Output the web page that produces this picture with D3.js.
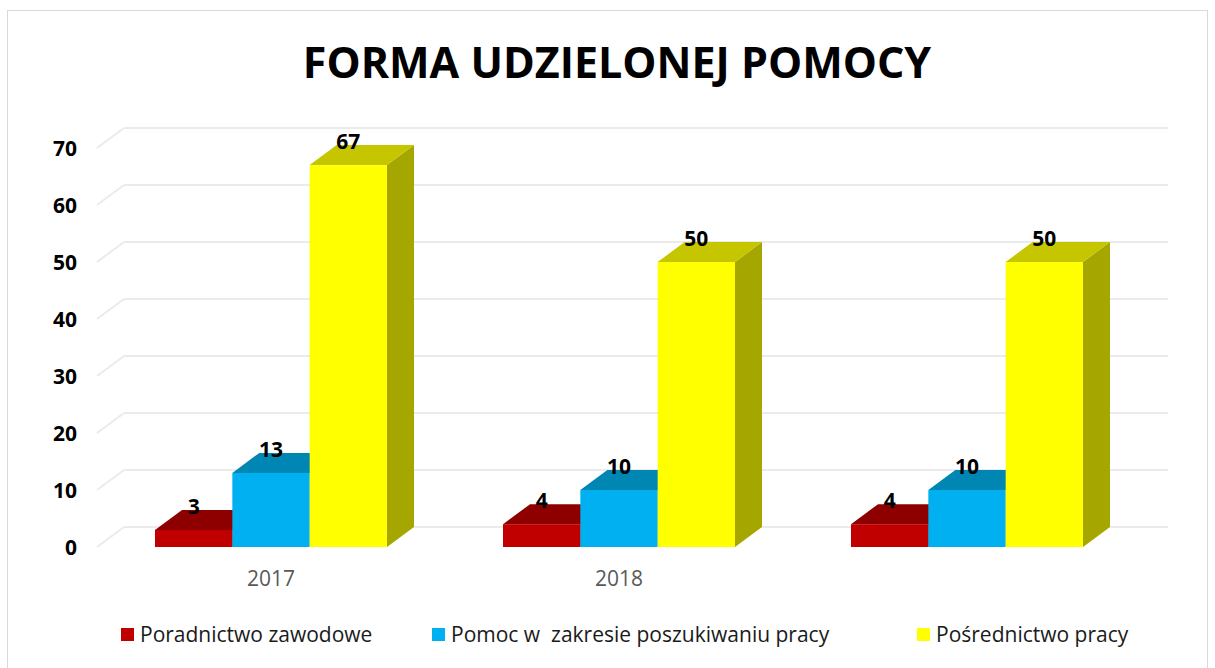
<!DOCTYPE html>
<html>
<head>
<meta charset="utf-8">
<script src="https://cdn.jsdelivr.net/npm/d3@7"></script>
<style>
  body { margin: 0; background: #fff; }
  svg { display: block; font-family: 'Open Sans', sans-serif; }
</style>
</head>
<body>
<div id="chart"></div>
<script>
const categories = ['2017', '2018', ''];
const seriesNames = ['Poradnictwo zawodowe', 'Pomoc w  zakresie poszukiwaniu pracy', 'Pośrednictwo pracy'];
const poradnictwo = [3, 4, 4];
const pomoc = [13, 10, 10];
const posrednictwo = [67, 50, 50];
const yTicks = [0, 10, 20, 30, 40, 50, 60, 70];

const W = 1215, H = 668;
const DX = 27, DY = -20; // 3d depth offset
const colors = [
  { front: '#C00000', top: '#8E0000', side: '#7A0000' },
  { front: '#00B0F0', top: '#0086B3', side: '#00739A' },
  { front: '#FFFF00', top: '#C6C600', side: '#A6A600' }
];

const svg = d3.select('#chart').append('svg')
  .attr('width', W).attr('height', H);

// chart frame
svg.append('rect')
  .attr('x', 7.5).attr('y', 10.5)
  .attr('width', 1200).attr('height', 680)
  .attr('fill', 'none').attr('stroke', '#d9d9d9');

svg.append('text')
  .attr('x', 617).attr('y', 78)
  .attr('text-anchor', 'middle')
  .attr('font-size', 43).attr('font-weight', 700)
  .attr('fill', '#000')
  .text('FORMA UDZIELONEJ POMOCY');

const x0 = d3.scaleBand().domain(d3.range(categories.length)).range([97, 1141]);
const x1 = d3.scaleBand().domain(d3.range(3))
  .range([x0.bandwidth() / 6, x0.bandwidth() * 5 / 6]);
const y = d3.scaleLinear().domain([0, 70]).range([547, 148]);

// gridlines: back wall + side diagonal
const grid = svg.append('g');
grid.selectAll('.gback').data(yTicks).enter().append('line')
  .attr('x1', 97 + DX).attr('x2', 1141 + DX)
  .attr('y1', d => y(d) + DY).attr('y2', d => y(d) + DY)
  .attr('stroke', '#ebebeb').attr('stroke-width', 2);
grid.selectAll('.gside').data(yTicks).enter().append('line')
  .attr('x1', 97).attr('x2', 97 + DX)
  .attr('y1', d => y(d)).attr('y2', d => y(d) + DY)
  .attr('stroke', '#ebebeb').attr('stroke-width', 2);

// y axis labels
svg.selectAll('.ylab').data(yTicks).enter().append('text')
  .attr('x', 77).attr('y', d => y(d) + 8)
  .attr('text-anchor', 'end')
  .attr('font-size', 21).attr('font-weight', 700)
  .text(d => d);

const rows = categories.map((c, i) => [poradnictwo[i], pomoc[i], posrednictwo[i]]);

rows.forEach((vals, ci) => {
  const g = svg.append('g');
  vals.forEach((v, si) => {
    const xl = x0(ci) + x1(si);
    const xr = xl + x1.bandwidth();
    const yt = y(v), yb = y(0);
    const c = colors[si];
    // side
    g.append('path')
      .attr('d', `M${xr},${yb}L${xr + DX},${yb + DY}L${xr + DX},${yt + DY}L${xr},${yt}Z`)
      .attr('fill', c.side);
    // top
    g.append('path')
      .attr('d', `M${xl},${yt}L${xl + DX},${yt + DY}L${xr + DX},${yt + DY}L${xr},${yt}Z`)
      .attr('fill', c.top);
    // front
    g.append('rect')
      .attr('x', xl).attr('y', yt)
      .attr('width', x1.bandwidth()).attr('height', yb - yt)
      .attr('fill', c.front);
  });
  vals.forEach((v, si) => {
    const xc = x0(ci) + x1(si) + x1.bandwidth() / 2;
    g.append('text')
      .attr('x', xc).attr('y', y(v) + DY + 4)
      .attr('text-anchor', 'middle')
      .attr('font-size', 21).attr('font-weight', 700)
      .text(v);
  });
});

// category labels
svg.selectAll('.xlab').data(categories).enter().append('text')
  .attr('x', (d, i) => x0(i) + x0.bandwidth() / 2)
  .attr('y', 586)
  .attr('text-anchor', 'middle')
  .attr('font-size', 21).attr('fill', '#595959')
  .text(d => d);

// legend
const legendX = [121, 432, 917];
const legend = svg.selectAll('.leg').data(seriesNames).enter().append('g')
  .attr('transform', (d, i) => `translate(${legendX[i]},628)`);
legend.append('rect')
  .attr('width', 13).attr('height', 13)
  .attr('fill', (d, i) => colors[i].front);
legend.append('text')
  .attr('x', 19).attr('y', 14)
  .attr('font-size', 21).attr('fill', '#1a1a1a')
  .style('white-space', 'pre')
  .text(d => d);
</script>
</body>
</html>
